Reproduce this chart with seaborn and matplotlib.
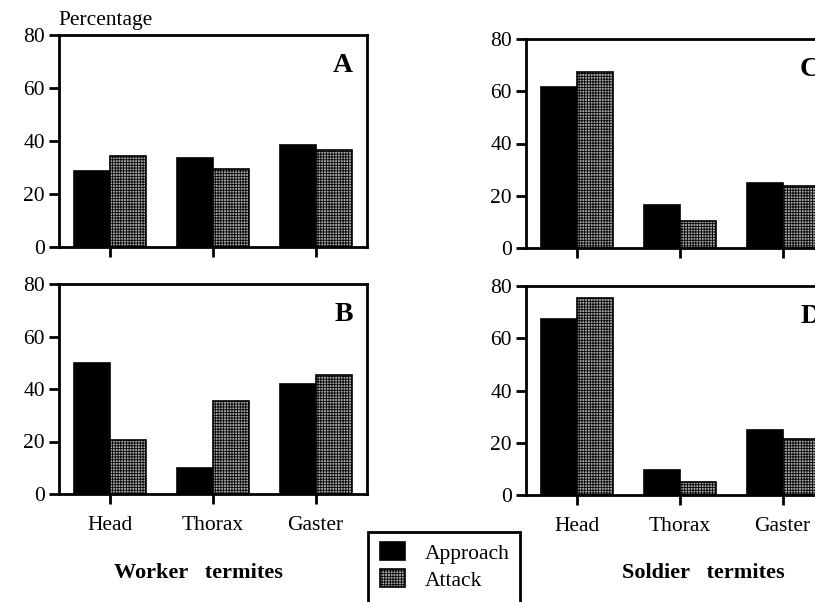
import pandas as pd
import seaborn as sns
import matplotlib.pyplot as plt
from matplotlib.patches import Rectangle

# values (percentages)
parts = ['Head', 'Thorax', 'Gaster']
worker_approach_A = [28.5, 33.5, 38.5]
worker_attack_A = [34.5, 29.5, 36.5]
worker_approach_B = [50, 10, 42]
worker_attack_B = [20.5, 35.5, 45.5]
soldier_approach_C = [61.5, 16.5, 24.8]
soldier_attack_C = [67.5, 10.5, 23.7]
soldier_approach_D = [67.5, 9.5, 25]
soldier_attack_D = [75.5, 5, 21.5]


def long_df(approach, attack):
    return pd.DataFrame({
        'part': parts * 2,
        'behaviour': ['Approach'] * 3 + ['Attack'] * 3,
        'pct': approach + attack,
    })


sns.set_style('ticks')
plt.rcParams['font.family'] = ['Liberation Serif', 'DejaVu Serif']
plt.rcParams['hatch.linewidth'] = 0.6
for key in ['text.color', 'axes.edgecolor', 'xtick.color', 'ytick.color',
            'axes.labelcolor']:
    plt.rcParams[key] = 'black'

fig = plt.figure(figsize=(8.15, 6.02), dpi=100)
W, H = 815, 602


def add_axes(left, top, bottom, width=308):
    return fig.add_axes([left / W, 1 - bottom / H, width / W, (bottom - top) / H])


panels = [
    (add_axes(59, 35, 247), worker_approach_A, worker_attack_A, 'A', False),
    (add_axes(59, 284, 494), worker_approach_B, worker_attack_B, 'B', True),
    (add_axes(526, 39, 248), soldier_approach_C, soldier_attack_C, 'C', False),
    (add_axes(526, 286, 495), soldier_approach_D, soldier_attack_D, 'D', True),
]

for ax, appr, att, letter, show_labels in panels:
    df = long_df(appr, att)
    sns.barplot(data=df, x='part', y='pct', hue='behaviour', ax=ax,
                palette=['black', '#a8a8a8'], width=0.7, gap=0,
                edgecolor='black', linewidth=1.2, legend=False)
    for bar in ax.containers[1]:
        bar.set_hatch('++++++')
    ax.set_ylim(0, 80)
    ax.set_xlim(-0.5, 2.5)
    ax.set_yticks([0, 20, 40, 60, 80])
    ax.set_xlabel('')
    ax.set_ylabel('')
    for s in ax.spines.values():
        s.set_linewidth(2)
        s.set_visible(True)
    ax.tick_params(axis='both', direction='out', length=7, width=2,
                   labelsize=15.5, pad=3)
    if not show_labels:
        ax.set_xticklabels([])
    else:
        ax.tick_params(axis='x', pad=9)
    ax.text(0.955, 0.855, letter, transform=ax.transAxes, ha='right',
            va='center', fontsize=20, fontweight='bold')

fig.text(58 / W, 1 - 21 / H, 'Percentage', fontsize=15.5, ha='left', va='center')
fig.text(198 / W, 1 - 573 / H, 'Worker   termites', fontsize=16,
         fontweight='bold', ha='center', va='center')
fig.text(703 / W, 1 - 573 / H, 'Soldier   termites', fontsize=16,
         fontweight='bold', ha='center', va='center')

# legend box, open at the bottom edge of the figure
fig.patches.append(Rectangle((368 / W, -0.05), 152 / W, 0.05 + 1 - 532 / H,
                             transform=fig.transFigure, fill=False,
                             edgecolor='black', linewidth=2))
handles = panels[0][0].containers[0][0], panels[0][0].containers[1][0]
leg = fig.legend(handles, ['Approach', 'Attack'], loc='upper left',
                 bbox_to_anchor=(374 / W, 1 - 536 / H), fontsize=15.5,
                 frameon=False, handlelength=1.15, handleheight=0.9,
                 labelspacing=0.25, handletextpad=0.9, borderpad=0.3,
                 borderaxespad=0)

fig.savefig('out.png', dpi=100)
